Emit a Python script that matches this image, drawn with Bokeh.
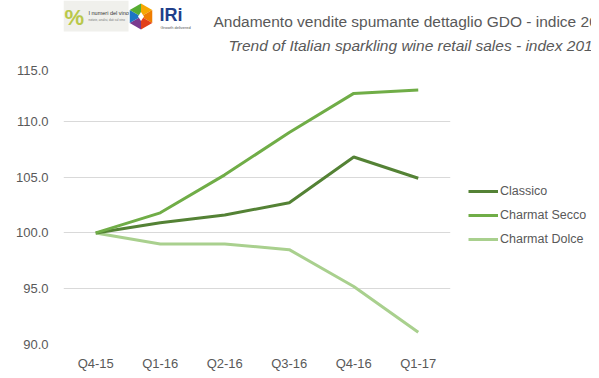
import math
from bokeh.plotting import figure
from bokeh.layouts import column
from bokeh.models import (FactorRange, Range1d, FixedTicker, NumeralTickFormatter,
                          Legend, LegendItem)
from bokeh.core.properties import value
from bokeh.embed import file_html
from bokeh.resources import INLINE

quarters = ["Q4-15", "Q1-16", "Q2-16", "Q3-16", "Q4-16", "Q1-17"]
classico = [100.0, 100.9, 101.6, 102.7, 106.8, 104.9]
charmat_secco = [100.0, 101.8, 105.2, 109.0, 112.5, 112.8]
charmat_dolce = [100.0, 99.0, 99.0, 98.5, 95.2, 91.1]
y_ticks = [90, 95, 100, 105, 110, 115]

title_it = "Andamento vendite spumante dettaglio GDO - indice 2015=100"
title_en = "Trend of Italian sparkling wine retail sales - index 2015 = 100"

GRAY = "#595959"
FONT = "Liberation Sans"
W = 591

# ---------- header (titles + logos) ----------
h = figure(frame_width=W, frame_height=65,
           x_range=Range1d(0, W), y_range=Range1d(65, 0),
           min_border_left=0, min_border_right=0, min_border_top=0,
           min_border_bottom=0,
           x_axis_location=None, y_axis_location=None,
           output_backend="svg", toolbar_location=None)
h.outline_line_color = None
h.xgrid.visible = False
h.ygrid.visible = False

h.text(x=[150], y=[21], text=[title_it], text_align="left",
       text_baseline="middle", text_font=value(FONT),
       text_font_size="15.5px", text_color=GRAY)
h.text(x=[165], y=[45], text=[title_en], text_align="left",
       text_baseline="middle", text_font=value(FONT),
       text_font_size="15.5px", text_font_style="italic", text_color=GRAY)

# "I numeri del vino" logo
h.quad(left=[0], right=[65], top=[0], bottom=[31], fill_color="#f0f0ec",
       line_color=None)
h.text(x=[1], y=[17], text=["%"], text_font=value(FONT), text_font_size="22px",
       text_font_style="bold", text_color="#b9c84a", text_baseline="middle")
h.text(x=[25], y=[12], text=["I numeri del vino"], text_font=value(FONT),
       text_font_size="5.5px", text_color="#333333", text_baseline="middle")
h.text(x=[25], y=[19], text=["notizie, analisi, dati sul vino"],
       text_font=value(FONT), text_font_size="3px", text_color="#777777",
       text_baseline="middle")

# IRi logo
cx, cy, rad = 77.5, 16, 13
hex_colors = ["#f6a800", "#ef7d00", "#e2401b", "#7a3b8f", "#1d75c4", "#57ad32"]
xs, ys = [], []
for k in range(6):
    a0 = math.radians(-90 + 60 * k)
    a1 = math.radians(-90 + 60 * (k + 1))
    xs.append([cx, cx + rad * math.cos(a0), cx + rad * math.cos(a1)])
    ys.append([cy, cy + rad * math.sin(a0), cy + rad * math.sin(a1)])
h.patches(xs, ys, fill_color=hex_colors, line_color=None)
h.scatter(x=[cx], y=[cy], marker="diamond", size=9, fill_color="white",
          line_color=None)
h.text(x=[96], y=[14], text=["IRi"], text_font=value(FONT), text_font_size="18px",
       text_font_style="bold", text_color="#1f3f8a", text_baseline="middle")
h.text(x=[97], y=[27], text=["Growth delivered"], text_font=value(FONT),
       text_font_size="4px", text_color="#555555", text_baseline="middle")

# ---------- main chart ----------
p = figure(x_range=FactorRange(*quarters), y_range=Range1d(90, 115),
           frame_width=387, frame_height=279,
           min_border_left=63, min_border_right=W - 63 - 387, min_border_top=0,
           min_border_bottom=30,
           output_backend="svg", toolbar_location=None)
p.outline_line_color = None
p.background_fill_color = "white"
p.border_fill_color = "white"

p.xgrid.grid_line_color = None
p.ygrid.grid_line_color = "#d9d9d9"
p.ygrid.grid_line_width = 1

p.yaxis.ticker = FixedTicker(ticks=y_ticks)
p.yaxis.formatter = NumeralTickFormatter(format="0.0")
for ax in (p.xaxis[0], p.yaxis[0]):
    ax.axis_line_color = None
    ax.major_tick_line_color = None
    ax.minor_tick_line_color = None
    ax.major_tick_out = 0
    ax.major_tick_in = 0
    ax.major_label_text_font = FONT
    ax.major_label_text_font_size = "13px"
    ax.major_label_text_color = GRAY
p.yaxis.major_label_standoff = 15
p.xaxis.major_label_standoff = 11

r_dolce = p.line(quarters, charmat_dolce, line_color="#a9d08e", line_width=3)
r_classico = p.line(quarters, classico, line_color="#548235", line_width=3)
r_secco = p.line(quarters, charmat_secco, line_color="#70ad47", line_width=3)

legend = Legend(items=[LegendItem(label="Classico", renderers=[r_classico]),
                       LegendItem(label="Charmat Secco", renderers=[r_secco]),
                       LegendItem(label="Charmat Dolce", renderers=[r_dolce])],
                location=(18, 95), padding=0, margin=0, spacing=4,
                glyph_width=30, glyph_height=20, label_height=20,
                label_standoff=2, border_line_color=None,
                background_fill_alpha=0,
                label_text_font=FONT, label_text_font_size="12.5px",
                label_text_color=GRAY)
p.add_layout(legend, "right")

layout = column(h, p, spacing=0)
open("out.html", "w").write(file_html(layout, INLINE))
